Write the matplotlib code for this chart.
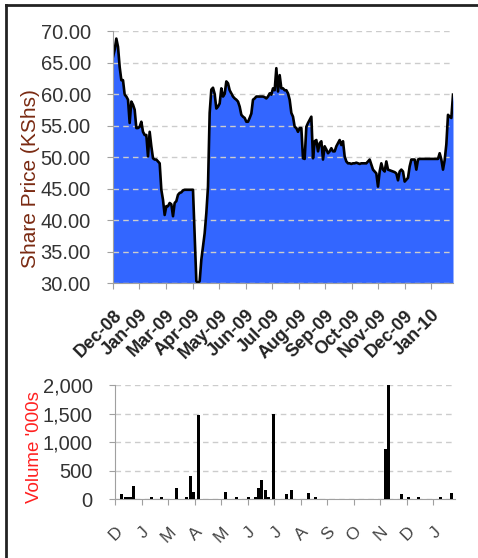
import numpy as np
import matplotlib
matplotlib.use('Agg')
import matplotlib.pyplot as plt
from matplotlib.lines import Line2D

plt.rcParams['font.family'] = ['Liberation Sans', 'DejaVu Sans']

# share price (KShs), one value per trading day
price = [65.9, 67.0, 68.8, 67.5, 64.3, 62.2, 62.2, 59.9, 59.6, 59.1,
         55.4, 58.8, 58.3, 57.5, 54.6, 54.6, 54.8, 55.6, 54.0, 53.5,
         53.5, 50.1, 54.0, 51.7, 49.8, 49.6, 49.6, 49.3, 49.0, 44.8,
         43.2, 40.8, 42.2, 42.2, 42.7, 42.5, 40.6, 42.7, 43.0, 44.0,
         44.3, 44.4, 44.7, 44.8, 44.8, 44.8, 44.8, 44.8, 44.8, 37.5,
         30.3, 30.0, 30.3, 33.7, 35.8, 37.9, 41.1, 45.3, 57.0, 60.7,
         61.0, 60.0, 57.7, 58.0, 58.5, 60.9, 59.6, 60.0, 62.0, 61.7,
         60.6, 60.1, 59.6, 59.3, 59.1, 58.8, 58.0, 56.7, 56.4, 56.2,
         55.6, 55.6, 56.2, 56.9, 59.1, 59.3, 59.6, 59.6, 59.6, 59.6,
         59.6, 59.5, 59.3, 59.6, 60.1, 59.9, 60.9, 60.6, 64.1, 60.4,
         63.0, 60.9, 60.9, 60.6, 60.6, 60.1, 59.1, 57.0, 56.4, 54.8,
         54.6, 54.0, 54.6, 54.6, 49.8, 49.7, 54.8, 55.4, 55.9, 56.4,
         49.8, 52.5, 52.7, 50.9, 52.2, 52.5, 49.6, 51.7, 51.2, 50.6,
         50.9, 51.4, 50.9, 50.9, 51.7, 52.2, 52.7, 51.9, 52.5, 50.1,
         49.3, 49.0, 49.0, 48.9, 49.0, 49.0, 49.1, 49.0, 48.9, 49.0,
         49.0, 49.0, 49.0, 49.3, 49.6, 48.8, 48.0, 47.7, 47.4, 45.3,
         47.7, 49.0, 48.0, 47.7, 49.3, 48.0, 47.9, 47.8, 47.7, 47.6,
         47.4, 46.3, 47.7, 48.0, 47.7, 46.1, 46.4, 46.7, 48.5, 49.6,
         49.6, 49.6, 48.0, 49.6, 49.7, 49.7, 49.7, 49.7, 49.7, 49.7,
         49.7, 49.7, 49.7, 49.7, 49.7, 49.7, 50.6, 49.6, 48.0, 49.5,
         52.0, 56.7, 56.4, 56.2, 59.9]

# traded volume ('000s), day index -> volume
vol_day = [4, 6, 7, 8, 9, 11, 22, 28, 37, 43, 45, 47, 50, 66, 73, 80, 84, 86,
           88, 90, 92, 95, 103, 106, 116, 120, 162, 164, 172, 176, 182, 195, 202]
vol_val = [80, 40, 40, 40, 40, 220, 40, 40, 190, 40, 400, 120, 1470, 120, 40,
           40, 40, 200, 330, 160, 40, 1500, 80, 150, 110, 40, 870, 2000, 80,
           40, 40, 40, 110]

month_labels = ['Dec-08', 'Jan-09', 'Mar-09', 'Apr-09', 'May-09', 'Jun-09',
                'Jul-09', 'Aug-09', 'Sep-09', 'Oct-09', 'Nov-09', 'Dec-09',
                'Jan-10']
month_letters = ['D', 'J', 'M', 'A', 'M', 'J', 'J', 'A', 'S', 'O', 'N', 'D', 'J']

x = np.arange(len(price))
tick_step = (len(price) - 1) / 12.83
ticks = np.arange(len(month_labels)) * tick_step

txt = '#333333'
axis_col = '#a0a0a0'
grid_kw = dict(color='#cccccc', linestyle=(0, (4, 3)), linewidth=1)

fig = plt.figure(figsize=(4.78, 5.58), dpi=100)

# ---- price chart
ax = fig.add_axes([0.2364, 0.4928, 0.7113, 0.4516])
ax.fill_between(x, 30, price, color='#3366ff', linewidth=0)
ax.plot(x, price, color='black', linewidth=1.9)
ax.set_xlim(0, len(price) - 1)
ax.set_ylim(30, 70)
ax.set_yticks(np.arange(30, 71, 5))
ax.set_yticklabels(['%.2f' % v for v in np.arange(30, 71, 5)])
ax.yaxis.grid(True, **grid_kw)
ax.set_xticks(ticks)
ax.set_xticklabels(month_labels, rotation=45, ha='right', rotation_mode='anchor',
                   fontsize=13, fontweight='bold')
for s in ['top', 'right']:
    ax.spines[s].set_visible(False)
for s in ['left', 'bottom']:
    ax.spines[s].set_color(axis_col)
ax.tick_params(axis='both', colors=axis_col, length=4, labelcolor=txt)
ax.tick_params(axis='y', labelsize=14.5, pad=12)
ax.tick_params(axis='x', labelcolor='#222222', pad=13)
ax.set_ylabel('Share Price (KShs)', fontsize=15, color='#7a2a12')
ax.yaxis.set_label_coords(-0.215, 0.413)

# ---- volume chart
bx = fig.add_axes([0.2406, 0.1057, 0.7113, 0.2043])
bx.bar(vol_day, vol_val, width=1.8, color='black', zorder=3)
bx.set_xlim(0, len(price) - 1)
bx.set_ylim(0, 2000)
bx.set_yticks([0, 500, 1000, 1500, 2000])
bx.set_yticklabels(['0', '500', '1,000', '1,500', '2,000'])
bx.yaxis.grid(True, **grid_kw)
bx.set_xticks(ticks)
bx.set_xticklabels(month_letters, rotation=45, ha='right', rotation_mode='anchor',
                   fontsize=12.5)
for s in ['top', 'right']:
    bx.spines[s].set_visible(False)
for s in ['left', 'bottom']:
    bx.spines[s].set_color(axis_col)
bx.tick_params(axis='both', colors=axis_col, length=4, labelcolor=txt)
bx.tick_params(axis='y', labelsize=14.5, pad=12)
bx.tick_params(axis='x', pad=14, labelcolor='#444444')
bx.set_ylabel("Volume '000s", fontsize=13.5, color='#ff2020')
bx.yaxis.set_label_coords(-0.212, 0.46)

# frame border
fig.add_artist(Line2D([0.012, 0.012], [0, 0.991], color='#222222', linewidth=2))
fig.add_artist(Line2D([0.012, 1.0], [0.991, 0.991], color='#222222', linewidth=2))

fig.savefig('out.png', dpi=100)
